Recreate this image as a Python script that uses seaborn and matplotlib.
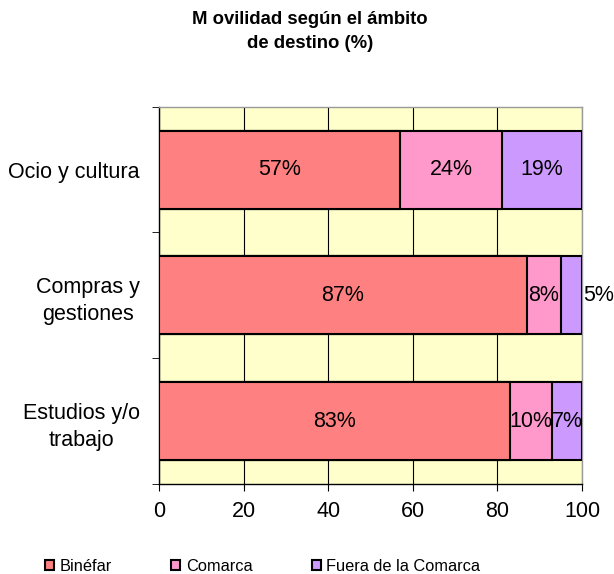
import matplotlib
matplotlib.use("Agg")
import matplotlib.pyplot as plt
import seaborn as sns
import numpy as np
import pandas as pd
from matplotlib.patches import Patch
from matplotlib.ticker import FixedLocator

categorias = ["Ocio y cultura", "Compras y\ngestiones", "Estudios y/o\ntrabajo"]
binefar = [57, 87, 83]
comarca = [24, 8, 10]
fuera = [19, 5, 7]
series = ["Binéfar", "Comarca", "Fuera de la Comarca"]
colores = ["#FF8080", "#FF99CC", "#CC99FF"]

sns.set_style("white")
plt.rcParams["font.family"] = ["Liberation Sans", "DejaVu Sans"]
plt.rcParams["text.color"] = "black"
plt.rcParams["xtick.color"] = "black"
plt.rcParams["ytick.color"] = "black"

df = pd.DataFrame({"cat": categorias, "Binéfar": binefar,
                   "Comarca": comarca, "Fuera de la Comarca": fuera})
acum = df[series].cumsum(axis=1)

fig = plt.figure(figsize=(6.14, 5.74), dpi=100)
ax = fig.add_axes([0.259, 0.157, 0.689, 0.657])
ax.set_facecolor("#FFFFCC")

# stacked bars: draw the longest first
for s, c in zip(reversed(series), reversed(colores)):
    sns.barplot(x=acum[s], y=df["cat"], color=c, saturation=1, orient="h", width=0.62,
                edgecolor="black", linewidth=1.5, ax=ax, zorder=3)

ax.set_xlim(0, 100)
ax.set_ylim(2.5, -0.5)
ax.set_xticks([0, 20, 40, 60, 80, 100])
ax.xaxis.grid(True, color="black", linewidth=0.8, zorder=0)
ax.set_axisbelow(True)
ax.set_xlabel("")
ax.set_ylabel("")
ax.tick_params(axis="x", labelsize=15.5, length=5, direction="out", bottom=True, color="black", pad=7)
ax.tick_params(axis="y", which="major", labelsize=15.5, length=0, pad=14)
for lab in ax.get_yticklabels():
    lab.set_multialignment("center")
    lab.set_linespacing(1.4)
ax.yaxis.set_minor_locator(FixedLocator([-0.5, 0.5, 1.5, 2.5]))
ax.tick_params(axis="y", which="minor", length=5, left=True, color="black")

for sp in ["left", "bottom"]:
    ax.spines[sp].set_color("black")
    ax.spines[sp].set_linewidth(1)
for sp in ["top", "right"]:
    ax.spines[sp].set_color("#999999")
    ax.spines[sp].set_linewidth(1)

# data labels at segment centres
for i in range(len(categorias)):
    izq = 0
    for s in series:
        v = df[s][i]
        xc = izq + v / 2
        if v <= 5:
            xc = izq + v + 4
        ax.text(xc, i, f"{v}%", ha="center", va="center", fontsize=15.5, zorder=5)
        izq += v

fig.text(0.505, 0.98, "M ovilidad según el ámbito\nde destino (%)", ha="center", va="top",
         fontsize=13.3, fontweight="bold", linespacing=1.5)

handles = [Patch(facecolor=c, edgecolor="black", linewidth=1.5) for c in colores]
fig.legend(handles, series, loc="center", bbox_to_anchor=(0.428, 0.013), ncol=3,
           frameon=False, fontsize=11.8, handlelength=0.55, handleheight=0.55,
           handletextpad=0.35, columnspacing=3.6, borderaxespad=0, borderpad=0)

plt.savefig("out.png", dpi=100)
